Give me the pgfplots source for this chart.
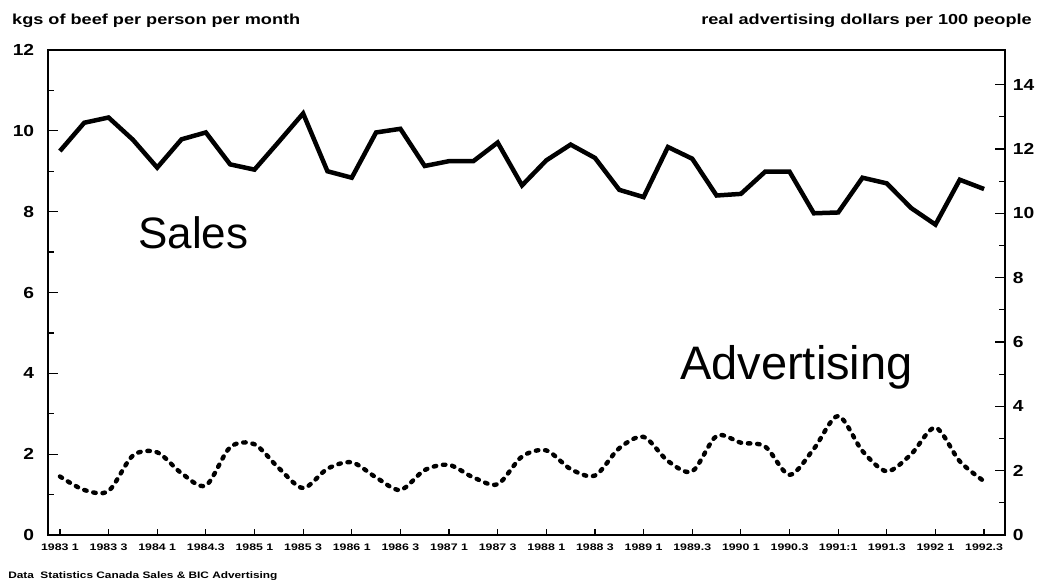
\documentclass[border=0pt]{standalone}
\usepackage{fontspec}
\setmainfont{Liberation Sans}
\usepackage{pgfplots}
\pgfplotsset{compat=1.18}
\usepackage{pgfplotstable}

\pgfplotstableread{
q sales
0 9.50
1 10.20
2 10.33
3 9.78
4 9.09
5 9.79
6 9.96
7 9.17
8 9.04
9 9.73
10 10.43
11 9.00
12 8.84
13 9.96
14 10.05
15 9.13
16 9.25
17 9.25
18 9.71
19 8.65
20 9.27
21 9.66
22 9.33
23 8.54
24 8.36
25 9.60
26 9.31
27 8.40
28 8.44
29 8.99
30 8.99
31 7.96
32 7.98
33 8.84
34 8.70
35 8.09
36 7.68
37 8.79
38 8.56
}\salesdata

\pgfplotstableread{
q adv
0 1.82
1 1.40
2 1.37
3 2.47
4 2.57
5 1.92
6 1.54
7 2.73
8 2.82
9 2.08
10 1.46
11 2.06
12 2.26
13 1.79
14 1.40
15 2.02
16 2.18
17 1.79
18 1.58
19 2.44
20 2.63
21 2.05
22 1.85
23 2.70
24 3.05
25 2.30
26 1.98
27 3.08
28 2.87
29 2.75
30 1.87
31 2.68
32 3.70
33 2.61
34 1.98
35 2.51
36 3.34
37 2.29
38 1.67
}\advdata

\pgfplotsset{
  common/.style={
    at={(0pt,0pt)}, anchor=south west,
    scale only axis, width=957pt, height=485pt,
    xmin=-0.49, xmax=38.86,
    axis line style={line width=2pt, black},
    every tick/.style={line width=1.2pt, black},
    tick align=inside,
    /pgf/number format/assume math mode=true,
  },
}

\begin{document}
\begin{tikzpicture}
\path[use as bounding box] (-48pt,-47pt) rectangle (991pt,535pt);

% x ticks and labels
\begin{axis}[common,
  ymin=0, ymax=12, ytick=\empty,
  major tick length=6pt,
  xtick={0,2,...,38},
  xtick pos=left, xticklabel pos=left,
  xticklabels={1983 1,1983 3,1984 1,1984.3,1985 1,1985 3,1986 1,1986 3,1987 1,1987 3,1988 1,1988 3,1989 1,1989.3,1990 1,1990.3,1991:1,1991.3,1992 1,1992.3},
  xticklabel style={font=\fontsize{9.5}{10}\selectfont\bfseries, xscale=1.3, yshift=-5pt},
]
\end{axis}

% left axis: sales
\begin{axis}[common,
  ymin=0, ymax=12, xtick=\empty,
  ytick={0,2,...,12}, minor ytick={1,3,...,11},
  major tick length=10pt, minor tick length=6pt,
  ytick pos=left, yticklabel pos=left,
  yticklabel style={font=\fontsize{16}{17}\selectfont\bfseries, xscale=1.2, xshift=-8pt},
]
\addplot[black, line width=4.5pt, line join=miter, miter limit=4] table[x=q, y=sales] {\salesdata};
\end{axis}

% right axis: advertising
\begin{axis}[common,
  ymin=0, ymax=15.08, xtick=\empty,
  ytick={0,2,...,14}, minor ytick={1,3,...,13},
  major tick length=10pt, minor tick length=6pt,
  ytick pos=right, yticklabel pos=right,
  yticklabel style={font=\fontsize{16}{17}\selectfont\bfseries, xscale=1.2, xshift=3pt},
]
\addplot[black, line width=4.4pt, line cap=round, dash pattern=on 2.5pt off 6.8pt, smooth, tension=0.5] table[x=q, y=adv] {\advdata};
\end{axis}

\node[anchor=base west, inner sep=0, font=\fontsize{14.5}{16}\selectfont\bfseries, xscale=1.25] at (-36pt,510pt) {kgs of beef per person per month};
\node[anchor=base east, inner sep=0, font=\fontsize{14.5}{16}\selectfont\bfseries, xscale=1.25] at (984pt,510pt) {real advertising dollars per 100 people};
\node[anchor=base west, inner sep=0, font=\fontsize{9.4}{11}\selectfont\bfseries, xscale=1.26] at (-40pt,-43pt) {Data\ \ Statistics Canada Sales \& BIC Advertising};
\node[anchor=base west, inner sep=0, font=\fontsize{44}{50}\selectfont] at (90pt,286pt) {Sales};
\node[anchor=base west, inner sep=0, font=\fontsize{47}{52}\selectfont] at (632pt,156pt) {Advertising};
\end{tikzpicture}
\end{document}
